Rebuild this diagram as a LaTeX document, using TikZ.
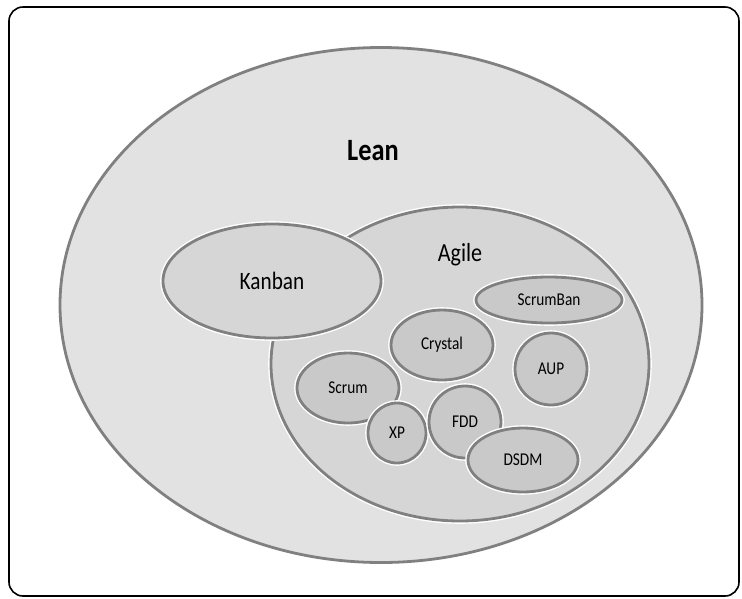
\documentclass[tikz,border=0pt]{standalone}
\usepackage{fontspec}
\setmainfont{Carlito}[FakeStretch=0.85]
\usetikzlibrary{shapes.geometric}

\definecolor{leanfill}{RGB}{226,226,227}
\definecolor{agilefill}{RGB}{214,214,215}
\definecolor{methodfill}{RGB}{201,201,202}
\definecolor{rimgray}{RGB}{128,128,128}

\tikzset{
	rim/.style={draw=rimgray, line width=2.8pt, preaction={draw=white, line width=5.6pt}},
	blob/.style={ellipse, rim, inner sep=0pt, fill=#1},
	method/.style={blob=methodfill, font=\fontsize{18}{18}\selectfont},
}

\begin{document}
\begin{tikzpicture}[x=1pt, y=-1pt]
				\useasboundingbox (0, 0) rectangle (742, 598);
				
				% frame
				\draw[line width=1.6pt, rounded corners=14pt] (9, 7) rectangle (739, 596);
				
				% outer sets
				\node[blob=leanfill, minimum width=642pt, minimum height=515pt] (lean) at (381, 305) {};
				\node[font=\fontsize{31}{31}\selectfont\bfseries] (leantext) at (373, 151) {Lean};
				\node[blob=agilefill, minimum width=378pt, minimum height=314pt] (agile) at (460, 364) {};
				\node[font=\fontsize{26}{26}\selectfont] (agiletext) at (460, 255) {Agile};
				\node[blob=agilefill, minimum width=218pt, minimum height=114pt, font=\fontsize{25}{25}\selectfont] (kanban) at (272, 281) {Kanban};
				
				% methods inside agile
				\foreach \name/\x/\y/\w/\h/\txt in {scrumban/549/300/146/46/ScrumBan, crystal/442/345/102/70/Crystal, aup/551/369/72/72/AUP, scrum/348/388/102/70/Scrum, xp/397/433/58/60/XP, fdd/465/422/72/72/FDD, dsdm/523/460/110/64/DSDM}
				\node[method, minimum width=\w pt, minimum height=\h pt] (\name) at (\x, \y) {\txt};
			\end{tikzpicture}
\end{document}
